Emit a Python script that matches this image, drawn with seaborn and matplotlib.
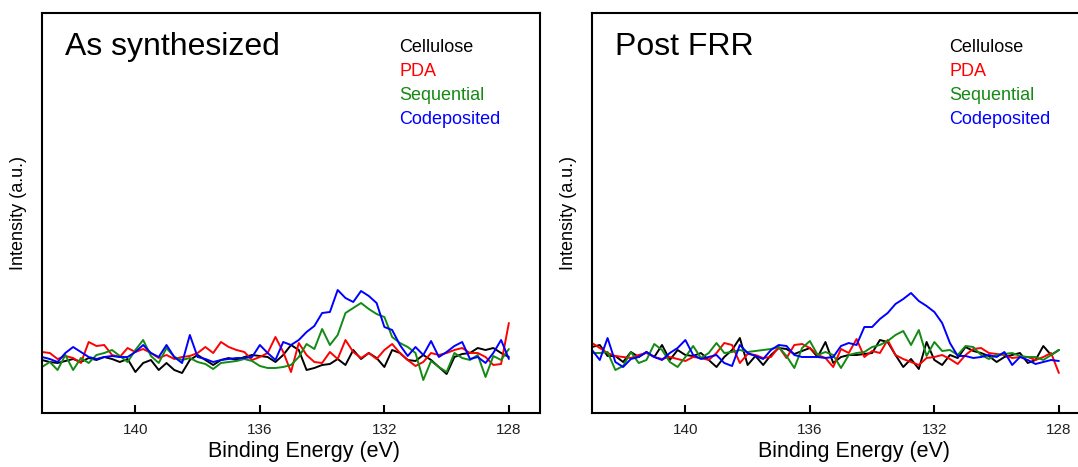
import numpy as np
import pandas as pd
import seaborn as sns
import matplotlib.pyplot as plt

# binding energy grid (eV), 0.25 eV steps from 143 down to 128
energy = np.round(np.arange(143.0, 127.99, -0.25), 2)

samples = ['Cellulose', 'PDA', 'Sequential', 'Codeposited']
colors = ['#000000', '#ff0000', '#138a13', '#0000ff']

# As synthesized (arbitrary intensity units)
cellulose_as = [53, 51, 50, 52, 54, 51, 55, 53, 56, 54, 51, 54, 41, 50, 53, 43, 50, 43, 40, 53,
                58, 53, 48, 53, 55, 53, 56, 58, 57, 56, 51, 58, 68, 63, 43, 45, 48, 49, 54, 48,
                63, 54, 60, 55, 46, 63, 60, 53, 52, 58, 53, 46, 39, 56, 59, 60, 65, 63, 65, 60, 56]
pda_as = [61, 60, 54, 57, 55, 50, 71, 67, 68, 58, 56, 65, 61, 64, 60, 55, 58, 54, 56, 57,
          60, 66, 60, 71, 66, 63, 61, 53, 56, 60, 76, 61, 41, 70, 58, 51, 50, 61, 54, 73,
          61, 55, 60, 54, 63, 69, 60, 53, 47, 51, 60, 58, 60, 63, 65, 60, 60, 56, 48, 49, 90]
sequential_as = [46, 51, 43, 58, 43, 55, 50, 58, 60, 63, 57, 51, 63, 73, 57, 50, 65, 56, 53, 55,
                 51, 49, 44, 50, 51, 52, 54, 52, 47, 45, 45, 46, 48, 56, 69, 64, 84, 68, 78, 100,
                 105, 110, 104, 99, 96, 76, 70, 66, 60, 33, 52, 46, 41, 60, 55, 53, 58, 36, 57, 53, 64]
codeposited_as = [56, 54, 51, 60, 66, 61, 56, 54, 56, 57, 56, 56, 61, 68, 60, 56, 68, 56, 50, 78,
                  56, 54, 51, 53, 54, 55, 55, 56, 68, 60, 53, 71, 68, 73, 81, 87, 100, 101, 123, 115,
                  111, 122, 117, 110, 86, 83, 68, 57, 66, 58, 72, 56, 61, 67, 71, 54, 56, 50, 60, 73, 54]

# Post FRR
cellulose_frr = [66, 68, 57, 57, 51, 61, 56, 61, 56, 68, 53, 63, 58, 57, 60, 53, 46, 56, 63, 75,
                 48, 57, 48, 58, 65, 64, 59, 62, 65, 56, 71, 50, 56, 58, 58, 59, 60, 73, 71, 58,
                 46, 54, 44, 71, 53, 48, 58, 55, 66, 62, 60, 57, 51, 56, 58, 60, 50, 53, 67, 58, 63]
pda_frr = [70, 65, 60, 57, 56, 55, 58, 60, 56, 54, 56, 54, 52, 56, 55, 53, 60, 70, 68, 50,
           59, 58, 55, 56, 66, 55, 68, 69, 65, 58, 55, 46, 64, 60, 74, 56, 62, 60, 73, 58,
           54, 51, 48, 55, 56, 58, 54, 49, 58, 64, 65, 60, 59, 58, 55, 56, 56, 53, 56, 60, 40]
sequential_frr = [60, 60, 61, 43, 47, 61, 50, 53, 69, 63, 51, 46, 56, 67, 55, 60, 70, 60, 61, 63,
                  61, 62, 63, 64, 66, 57, 45, 65, 72, 58, 61, 58, 45, 58, 60, 61, 66, 68, 72, 78,
                  82, 68, 83, 57, 71, 62, 63, 58, 67, 66, 58, 54, 58, 59, 60, 57, 56, 56, 53, 58, 63]
codeposited_frr = [63, 53, 75, 51, 46, 54, 56, 61, 56, 53, 60, 65, 73, 58, 54, 56, 58, 50, 47, 68,
                   60, 57, 54, 63, 68, 67, 58, 56, 56, 56, 55, 56, 67, 70, 68, 86, 86, 94, 100, 109,
                   114, 120, 112, 107, 101, 90, 70, 57, 57, 55, 56, 58, 56, 61, 48, 56, 53, 49, 51, 53, 52]

panels = [
    ('As synthesized', [cellulose_as, pda_as, sequential_as, codeposited_as]),
    ('Post FRR', [cellulose_frr, pda_frr, sequential_frr, codeposited_frr]),
]

sns.set_style('ticks')
plt.rcParams['font.family'] = ['Liberation Sans', 'DejaVu Sans']
plt.rcParams['text.color'] = 'black'
plt.rcParams['axes.labelcolor'] = 'black'

fig = plt.figure(figsize=(10.78, 4.67), dpi=100)
ax_w = 498 / 1078
ax_h = 400 / 467
lefts = [42 / 1078, 592 / 1078]

for left, (title, series) in zip(lefts, panels):
    ax = fig.add_axes([left, 54 / 467, ax_w, ax_h])
    df = pd.concat([pd.DataFrame({'energy': energy, 'intensity': vals, 'sample': name})
                    for name, vals in zip(samples, series)])
    sns.lineplot(data=df, x='energy', y='intensity', hue='sample', hue_order=samples,
                 palette=colors, linewidth=1.4, legend=False, estimator=None, ax=ax)

    ax.set_xlim(143, 127)
    ax.set_ylim(0, 400)
    ax.set_xticks([140, 136, 132, 128])
    ax.set_yticks([])
    ax.tick_params(axis='x', direction='in', length=6, width=1.5, pad=7,
                   labelsize=11, colors='black', labelcolor='#222222')
    for sp in ax.spines.values():
        sp.set_linewidth(1.5)
        sp.set_color('black')

    ax.set_xlabel('Binding Energy (eV)', fontsize=15.5)
    ax.xaxis.set_label_coords(0.526, -0.07)
    ax.set_ylabel('Intensity (a.u.)', fontsize=13)
    ax.yaxis.set_label_coords(-0.03, 0.5)

    ax.text(0.046, 0.895, title, transform=ax.transAxes, fontsize=23,
            va='baseline', ha='left')
    for k, (name, c) in enumerate(zip(samples, colors)):
        ax.text(0.717, 0.903 - 0.06 * k, name, transform=ax.transAxes,
                fontsize=13, color=c, va='baseline', ha='left')

fig.savefig('out.png', dpi=100)
